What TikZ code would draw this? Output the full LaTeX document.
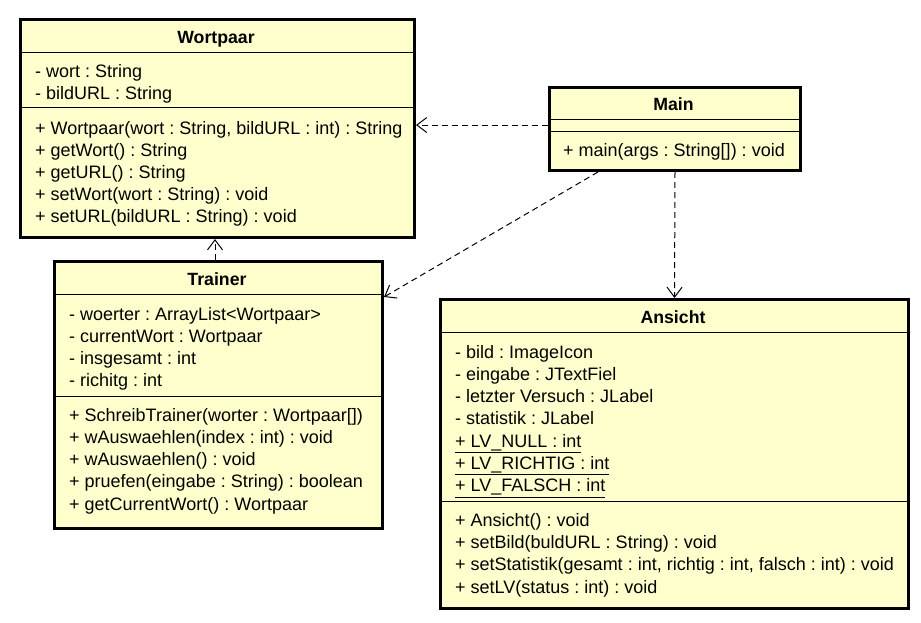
\documentclass[tikz,border=0pt]{standalone}
\usepackage{fontspec}
\setmainfont{Liberation Sans}
\usetikzlibrary{arrows.meta,positioning}
\frenchspacing

\definecolor{umlfill}{RGB}{255,255,206}

\tikzset{
  classbox/.style={draw, line width=3pt, fill=umlfill, anchor=north west, inner sep=0pt},
  member/.style={anchor=base west, inner sep=0pt, font=\fontsize{18}{20}\selectfont},
  title/.style={anchor=base, inner sep=0pt, font=\fontsize{17.7}{20}\selectfont\bfseries},
  sepline/.style={line width=1pt},
  dep/.style={line width=1pt, dash pattern=on 6pt off 4pt,
    -{Straight Barb[length=10pt,width=15pt]}}
}

\begin{document}
\begin{tikzpicture}[x=1pt,y=-1pt]

    \useasboundingbox (0,0) rectangle (921,622);

    % Wortpaar
    \node[classbox, minimum width=394pt, minimum height=218pt] (wp) at (19,18) {};
    \node[title] (wp-t) at (216,43) {Wortpaar};
    \draw[sepline] (wp.west |- 0,52) -- (wp.east |- 0,52) (wp.west |- 0,107) -- (wp.east |- 0,107);
    \foreach \t [count=\i] in {{- wort : String},{- bildURL : String}}
    { \node[member] (wp-a\i) at (35,{77+22*(\i-1)}) {\t}; }
    \foreach \t [count=\i] in {{+ Wortpaar(wort : String, bildURL : int) : String},
      {+ getWort() : String},{+ getURL() : String},{+ setWort(wort : String) : void},
      {+ setURL(bildURL : String) : void}}
    { \node[member] (wp-m\i) at (35,{134+22*(\i-1)}) {\t}; }

    % Main
    \node[classbox, minimum width=251pt, minimum height=83pt] (main) at (548,86) {};
    \node[title] (main-t) at (673.5,110) {Main};
    \draw[sepline] (main.west |- 0,119) -- (main.east |- 0,119) (main.west |- 0,131) -- (main.east |- 0,131);
    \node[member] (main-m1) at (563,156) {+ main(args : String[]) : void};

    % Trainer
    \node[classbox, minimum width=328pt, minimum height=267pt] (tr) at (53,260) {};
    \node[title] (tr-t) at (217,285) {Trainer};
    \draw[sepline] (tr.west |- 0,294) -- (tr.east |- 0,294) (tr.west |- 0,396) -- (tr.east |- 0,396);
    \foreach \t [count=\i] in {{- woerter : ArrayList<Wortpaar>},{- currentWort : Wortpaar},
      {- insgesamt : int},{- richitg : int}}
    { \node[member] (tr-a\i) at (69,{320+22.2*(\i-1)}) {\t}; }
    \foreach \t [count=\i] in {{+ SchreibTrainer(worter : Wortpaar[])},{+ wAuswaehlen(index : int) : void},
      {+ wAuswaehlen() : void},{+ pruefen(eingabe : String) : boolean},
      {+ getCurrentWort() : Wortpaar}}
    { \node[member] (tr-m\i) at (69,{421+22.3*(\i-1)}) {\t}; }

    % Ansicht
    \node[classbox, minimum width=468pt, minimum height=309pt] (an) at (439,298) {};
    \node[title] (an-t) at (673,323) {Ansicht};
    \draw[sepline] (an.west |- 0,332) -- (an.east |- 0,332) (an.west |- 0,501) -- (an.east |- 0,501);
    \foreach \t [count=\i] in {{- bild : ImageIcon},{- eingabe : JTextFiel},
      {- letzter Versuch : JLabel},{- statistik : JLabel},
      {\underline{+ LV\_NULL : int}},{\underline{+ LV\_RICHTIG : int}},
      {\underline{+ LV\_FALSCH : int}}}
    { \node[member] (an-a\i) at (455,{358+22.3*(\i-1)}) {\t}; }
    \foreach \t [count=\i] in {{+ Ansicht() : void},{+ setBild(buldURL : String) : void},
      {+ setStatistik(gesamt : int, richtig : int, falsch : int) : void},
      {+ setLV(status : int) : void}}
    { \node[member] (an-m\i) at (455,{526+22.4*(\i-1)}) {\t}; }

    % dependencies
    \draw[dep] (main.west |- 0,125) -- (wp.east |- 0,125);
    \draw[dep] (tr.north -| 215,0) -- (wp.south -| 215,0);
    \draw[dep] (598,0 |- main.south) -- (tr.east |- 0,297);
    \draw[dep] (main.south) -- (an.north);

\end{tikzpicture}
\end{document}
